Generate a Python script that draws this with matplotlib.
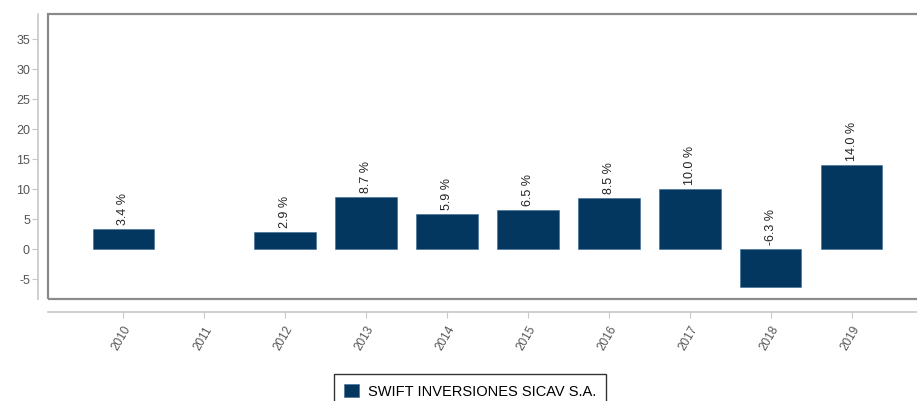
import matplotlib
matplotlib.use("Agg")
import matplotlib.pyplot as plt
from matplotlib.patches import Rectangle
import numpy as np

years = ["2010", "2011", "2012", "2013", "2014", "2015", "2016", "2017", "2018", "2019"]
returns = [3.4, np.nan, 2.9, 8.7, 5.9, 6.5, 8.5, 10.0, -6.3, 14.0]
yticks = [-5, 0, 5, 10, 15, 20, 25, 30, 35]
series_name = "SWIFT INVERSIONES SICAV S.A."

plt.rcParams['font.family'] = ['Liberation Sans', 'DejaVu Sans']
bar_color = '#04375f'
grey = '#8a8a8a'

fig = plt.figure(figsize=(9.17, 4.01), dpi=100)
ax = fig.add_axes([48/917, 1-299/401, 1-48/917+0.002, (299-14)/401])

x = np.arange(len(years))
bars = ax.bar(x, returns, width=0.76, color=bar_color, edgecolor='#3a6a95', linewidth=0.4,
              label=series_name, zorder=2)

for xi, v in zip(x, returns):
    if np.isnan(v):
        continue
    base = max(v, 0)
    ax.annotate(f"{v:.1f} %", (xi, base), xytext=(0, 3), textcoords='offset points',
                rotation=90, ha='center', va='bottom', fontsize=9, color='#222222')

ax.set_xlim(-0.93, 9.83)
ax.set_ylim(-8.3, 39.2)

# box around plot
ax.add_patch(Rectangle((0, 0), 1, 1, transform=ax.transAxes, fill=False,
                       edgecolor=grey, linewidth=1.6, clip_on=False, zorder=5))

for s in ['top', 'right']:
    ax.spines[s].set_visible(False)
ax.spines['left'].set_position(('outward', 7))
ax.spines['bottom'].set_position(('outward', 9))
ax.spines['left'].set_color('#c8c8c8')
ax.spines['bottom'].set_color('#c8c8c8')
ax.spines['left'].set_linewidth(1.2)
ax.spines['bottom'].set_linewidth(1.2)

ax.set_yticks(yticks)
ax.set_yticklabels([str(t) for t in yticks])
ax.tick_params(axis='y', length=4, color='#c8c8c8', labelcolor='#555555', labelsize=9, pad=2)

ax.set_xticks(x)
ax.set_xticklabels(years, rotation=60, ha='right', va='top', rotation_mode='anchor')
ax.tick_params(axis='x', length=4, color='#c8c8c8', labelcolor='#555555', labelsize=8.5, pad=5)

leg = fig.legend(handles=[bars], labels=[series_name], loc='upper center',
                 bbox_to_anchor=(470/917, 1-374/401), frameon=True, fancybox=False,
                 fontsize=10.5, handlelength=1.0, handleheight=1.0, borderpad=0.7,
                 handletextpad=0.6, borderaxespad=0)
leg.get_frame().set_edgecolor('black')
leg.get_frame().set_linewidth(1.0)

fig.savefig("out.png", dpi=100)
